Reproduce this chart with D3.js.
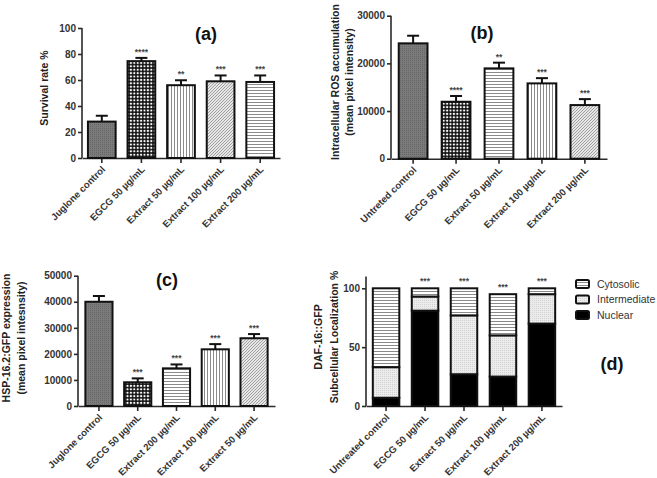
<!DOCTYPE html>
<html><head><meta charset="utf-8">
<script src="https://cdn.jsdelivr.net/npm/d3@7"></script>
<style>
html,body{margin:0;padding:0;background:#fff;}
svg{display:block;}
text{font-family:"Liberation Sans",Arial,sans-serif;}
</style></head>
<body>
<svg id="chart" width="657" height="478"></svg>
<script>
// ---------- DATA ----------
const catsA = ["Juglone control","EGCG 50 µg/mL","Extract 50 µg/mL","Extract 100 µg/mL","Extract 200 µg/mL"];
const survival = [28, 74.5, 56, 59, 58.5];
const survivalErr = [4.5, 2.5, 3.8, 4.5, 5];
const sigA = ["", "****", "**", "***", "***"];
const ticksA = [0, 20, 40, 60, 80, 100];

const catsB = ["Untreted control","EGCG 50 µg/mL","Extract 50 µg/mL","Extract 100 µg/mL","Extract 200 µg/mL"];
const ros = [24200, 11950, 18950, 15800, 11250];
const rosErr = [1600, 1200, 1200, 1100, 1250];
const sigB = ["", "****", "**", "***", "***"];
const ticksB = [0, 10000, 20000, 30000];

const catsC = ["Juglone control","EGCG 50 µg/mL","Extract 200 µg/mL","Extract 100 µg/mL","Extract 50 µg/mL"];
const hsp = [40000, 9100, 14450, 21750, 26000];
const hspErr = [2200, 1500, 1500, 2000, 1600];
const sigC = ["", "***", "***", "***", "***"];
const ticksC = [0, 10000, 20000, 30000, 40000, 50000];

const catsD = ["Untreated control","EGCG 50 µg/mL","Extract 50 µg/mL","Extract 100 µg/mL","Extract 200 µg/mL"];
const nuclear = [7, 81, 27, 25, 70];
const intermediate = [26, 12, 50, 35, 25];
const cytosolic = [67, 7, 23, 35, 5];
const sigD = ["", "***", "***", "***", "***"];
const ticksD = [0, 50, 100];
const seriesD = ["Nuclear", "Intermediate", "Cytosolic"];

// ---------- SETUP ----------
const svg = d3.select("#chart");
const defs = svg.append("defs");

function pat(id, size, bg, draw) {
  const p = defs.append("pattern").attr("id", id).attr("patternUnits", "userSpaceOnUse")
    .attr("width", size).attr("height", size);
  p.append("rect").attr("width", size).attr("height", size).attr("fill", bg);
  draw(p);
}
pat("dark", 2, "#7b7b7b", p => {
  p.append("rect").attr("x", 0).attr("y", 0).attr("width", 1).attr("height", 1).attr("fill", "#666");
});
pat("checker", 3.4, "#111", p => {
  p.append("circle").attr("cx", 1.7).attr("cy", 1.7).attr("r", 1.1).attr("fill", "#fff");
});
pat("hlines", 3, "#fff", p => {
  p.append("rect").attr("x", 0).attr("y", 0).attr("width", 3).attr("height", 1).attr("fill", "#8a8a8a");
});
pat("vlines", 3, "#fff", p => {
  p.append("rect").attr("x", 0).attr("y", 0).attr("width", 1).attr("height", 3).attr("fill", "#8a8a8a");
});
pat("diag", 3, "#e6e6e6", p => {
  p.append("path").attr("d", "M-1,1 L1,-1 M0,3 L3,0 M2,4 L4,2").attr("stroke", "#9a9a9a").attr("stroke-width", 0.9);
});
pat("dots", 2, "#ececec", p => {
  p.append("rect").attr("x", 0).attr("y", 0).attr("width", 1).attr("height", 1).attr("fill", "#d2d2d2");
});

const axisColor = "#2a2a2a";

function drawAxes(g, x, y, ticks, fmt, yTop) {
  const ya = g.append("g").attr("transform", `translate(${x.range()[0]},0)`)
    .call(d3.axisLeft(y).tickValues(ticks).tickFormat(fmt).tickSize(4).tickSizeOuter(0));
  ya.select(".domain").attr("d", `M0,${y.range()[0]}V${yTop}`);
  ya.selectAll("path,line").attr("stroke", axisColor).attr("stroke-width", 1.6);
  ya.selectAll("text").attr("font-size", 10).attr("font-weight", "bold").attr("fill", "#333").attr("x", -6);
  const xa = g.append("g").attr("transform", `translate(0,${y.range()[0]})`)
    .call(d3.axisBottom(x).tickSize(5).tickSizeOuter(0));
  xa.selectAll("path,line").attr("stroke", axisColor).attr("stroke-width", 1.6);
  xa.selectAll("text")
    .attr("font-size", 9.6).attr("font-weight", "bold").attr("fill", "#333")
    .attr("text-anchor", "end").attr("y", 0).attr("dy", 0)
    .attr("transform", "translate(4,12) rotate(-45)");
}

function barPanel(opts) {
  const g = svg.append("g");
  const x = d3.scaleBand().domain(opts.cats).range(opts.xr).paddingInner(opts.pi).paddingOuter(opts.po);
  const y = d3.scaleLinear().domain([0, opts.max]).range(opts.yr);
  drawAxes(g, x, y, opts.ticks, opts.fmt, opts.yr[1]);
  const bw = x.bandwidth();
  const data = opts.cats.map((c, i) => ({c, v: opts.vals[i], e: opts.errs[i], s: opts.sig[i], p: opts.pats[i]}));
  const bars = g.append("g").selectAll("g").data(data).join("g");
  bars.append("line")
    .attr("x1", d => x(d.c) + bw / 2).attr("x2", d => x(d.c) + bw / 2)
    .attr("y1", d => y(d.v)).attr("y2", d => y(d.v + d.e))
    .attr("stroke", "#111").attr("stroke-width", 2);
  bars.append("line")
    .attr("x1", d => x(d.c) + bw / 2 - 6).attr("x2", d => x(d.c) + bw / 2 + 6)
    .attr("y1", d => y(d.v + d.e)).attr("y2", d => y(d.v + d.e))
    .attr("stroke", "#111").attr("stroke-width", 2);
  bars.append("rect")
    .attr("x", d => x(d.c)).attr("width", bw)
    .attr("y", d => y(d.v)).attr("height", d => y(0) - y(d.v))
    .attr("fill", d => `url(#${d.p})`).attr("stroke", "#111").attr("stroke-width", 2);
  bars.append("text")
    .attr("x", d => x(d.c) + bw / 2).attr("y", d => y(d.v + d.e) - 3)
    .attr("text-anchor", "middle").attr("font-size", 8.5).attr("font-weight", "bold").attr("fill", "#444")
    .text(d => d.s);
  opts.ylabel.forEach((t, i) => {
    g.append("text").attr("transform", `translate(${opts.ylx[i]},${opts.yly}) rotate(-90)`)
      .attr("text-anchor", "middle").attr("font-size", 10.5).attr("font-weight", "bold").attr("fill", "#222")
      .text(t);
  });
  g.append("text").attr("x", opts.title[1]).attr("y", opts.title[2])
    .attr("text-anchor", "middle").attr("font-family", "'Open Sans',sans-serif")
    .attr("font-size", 18).attr("font-weight", "bold").attr("fill", "#111").text(opts.title[0]);
}

barPanel({
  cats: catsA, vals: survival, errs: survivalErr, sig: sigA, ticks: ticksA, fmt: d3.format("d"),
  max: 100, xr: [82, 280], yr: [158, 28], pi: 0.3, po: 0.15,
  pats: ["dark", "checker", "vlines", "diag", "hlines"],
  ylabel: ["Survival rate %"], ylx: [48], yly: 88, title: ["(a)", 206, 40]
});
barPanel({
  cats: catsB, vals: ros, errs: rosErr, sig: sigB, ticks: ticksB, fmt: d3.format("d"),
  max: 30000, xr: [391, 607], yr: [158.7, 15.7], pi: 0.33, po: 0.18,
  pats: ["dark", "checker", "hlines", "vlines", "diag"],
  ylabel: ["Intracellular ROS accumulation", "(mean pixel intensity)"], ylx: [339, 353], yly: 82, title: ["(b)", 482, 39]
});
barPanel({
  cats: catsC, vals: hsp, errs: hspErr, sig: sigC, ticks: ticksC, fmt: d3.format("d"),
  max: 50000, xr: [78, 275], yr: [406, 275.7], pi: 0.3, po: 0.19,
  pats: ["dark", "checker", "hlines", "vlines", "diag"],
  ylabel: ["HSP-16.2:GFP expression", "(mean pixel intesnsity)"], ylx: [10, 25], yly: 338, title: ["(c)", 167, 286]
});

// ---------- PANEL D (stacked) ----------
(function () {
  const g = svg.append("g");
  const x = d3.scaleBand().domain(catsD).range([366, 562]).paddingInner(0.32).paddingOuter(0.175);
  const y = d3.scaleLinear().domain([0, 100]).range([406, 288.3]);
  drawAxes(g, x, y, ticksD, d3.format("d"), y(110));
  const rows = catsD.map((c, i) => ({c, Nuclear: nuclear[i], Intermediate: intermediate[i], Cytosolic: cytosolic[i]}));
  const stack = d3.stack().keys(seriesD)(rows);
  const fills = {Nuclear: "#000", Intermediate: "url(#dots)", Cytosolic: "url(#hlines)"};
  const bw = x.bandwidth();
  stack.forEach(layer => {
    g.append("g").selectAll("rect").data(layer).join("rect")
      .attr("x", d => x(d.data.c)).attr("width", bw)
      .attr("y", d => y(d[1])).attr("height", d => y(d[0]) - y(d[1]))
      .attr("fill", fills[layer.key]).attr("stroke", "#111").attr("stroke-width", 2);
  });
  g.append("g").selectAll("text").data(rows).join("text")
    .attr("x", d => x(d.c) + bw / 2).attr("y", d => y(d.Nuclear + d.Intermediate + d.Cytosolic) - 4)
    .attr("text-anchor", "middle").attr("font-size", 8.5).attr("font-weight", "bold").attr("fill", "#444")
    .text((d, i) => sigD[i]);
  [["DAF-16::GFP", 322], ["Subcellular Localization %", 338]].forEach(([t, lx]) => {
    g.append("text").attr("transform", `translate(${lx},337) rotate(-90)`)
      .attr("text-anchor", "middle").attr("font-size", 10.5).attr("font-weight", "bold").attr("fill", "#222").text(t);
  });
  const leg = g.append("g");
  const legendItems = ["Cytosolic", "Intermediate", "Nuclear"];
  legendItems.forEach((k, i) => {
    const ly = 284 + i * 15.5;
    leg.append("rect").attr("x", 576).attr("y", ly - 4).attr("width", 13).attr("height", 8).attr("rx", 1.5)
      .attr("fill", fills[k]).attr("stroke", "#111").attr("stroke-width", 2);
    leg.append("text").attr("x", 597).attr("y", ly).attr("dy", "0.35em")
      .attr("font-size", 10.5).attr("fill", "#333").text(k);
  });
  g.append("text").attr("x", 612).attr("y", 370).attr("text-anchor", "middle")
    .attr("font-family", "'Open Sans',sans-serif").attr("font-size", 18).attr("font-weight", "bold")
    .attr("fill", "#111").text("(d)");
})();
</script>
</body></html>
